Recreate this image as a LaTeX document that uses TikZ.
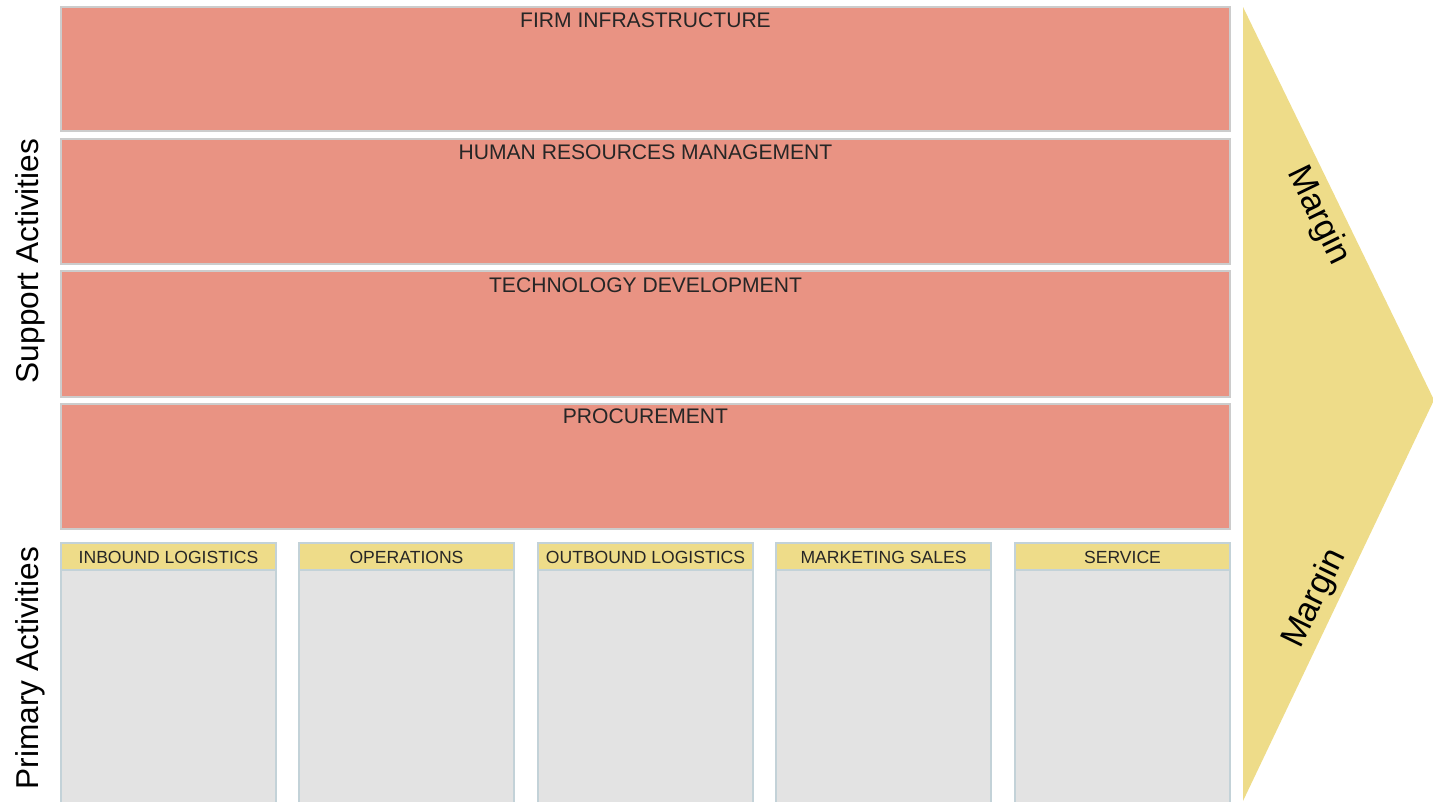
\documentclass[tikz,border=0pt]{standalone}
\usepackage{fontspec}
\setmainfont{Liberation Sans}
\definecolor{salmon}{HTML}{E99383}
\definecolor{sand}{HTML}{EEDC89}
\definecolor{pale}{HTML}{E3E3E3}
\definecolor{rim}{HTML}{C3D2D8}
\tikzset{
  support/.style={fill=salmon, draw=black!20, line width=1.2pt},
  primary/.style={fill=pale, draw=rim, line width=1.2pt},
  header/.style={fill=sand, draw=rim, line width=1.2pt},
  bartext/.style={font=\fontsize{12}{14}\selectfont, text=black!85, inner sep=0pt},
  headtext/.style={font=\fontsize{10}{12}\selectfont, text=black!85, inner sep=0pt},
  sidetext/.style={font=\fontsize{18}{20}\selectfont, inner sep=0pt},
  margintext/.style={font=\fontsize{19.5}{21}\selectfont, inner sep=0pt},
}
\begin{document}
\begin{tikzpicture}[x=0.02cm, y=-0.02cm]
    \useasboundingbox (0,0) rectangle (1433,801);
    \coordinate (ArrowTop) at (1243,7);
    \coordinate (ArrowTip) at (1434,400);
    \coordinate (ArrowBot) at (1243,801);
    \fill [sand] (ArrowTop) -- (ArrowTip) -- (ArrowBot) -- cycle;% Margin arrow
    % support activities
    \draw [support] (61,7)   rectangle (1230,131);
    \draw [support] (61,139) rectangle (1230,264);
    \draw [support] (61,271) rectangle (1230,397);
    \draw [support] (61,404) rectangle (1230,529);
    \node [bartext] (Firm)    at (645.5,20)  {FIRM INFRASTRUCTURE};
    \node [bartext] (Human)   at (645.5,152) {HUMAN RESOURCES MANAGEMENT};
    \node [bartext] (Tech)    at (645.5,285) {TECHNOLOGY DEVELOPMENT};
    \node [bartext] (Procure) at (645.5,416) {PROCUREMENT};
    % primary activities
    \foreach \x/\name/\label in {61/Inbound/INBOUND LOGISTICS, 299/Ops/OPERATIONS, 538/Outbound/OUTBOUND LOGISTICS, 776/Sales/MARKETING SALES, 1015/Service/SERVICE}{
        \draw [primary] (\x,570) rectangle (\x+215,804);
        \draw [header] (\x,543) rectangle (\x+215,570);
        \node [headtext] (\name) at (\x+107.5,557) {\label};
    }
    \node [sidetext, rotate=90] (Support) at (30,261) {Support Activities};
    \node [sidetext, rotate=90] (Primary) at (30,668) {Primary Activities};
    \node [margintext, rotate=-64] (MarginTop) at (1318,216) {Margin};
    \node [margintext, rotate=64]  (MarginBot) at (1315,599) {Margin};
\end{tikzpicture}
\end{document}
